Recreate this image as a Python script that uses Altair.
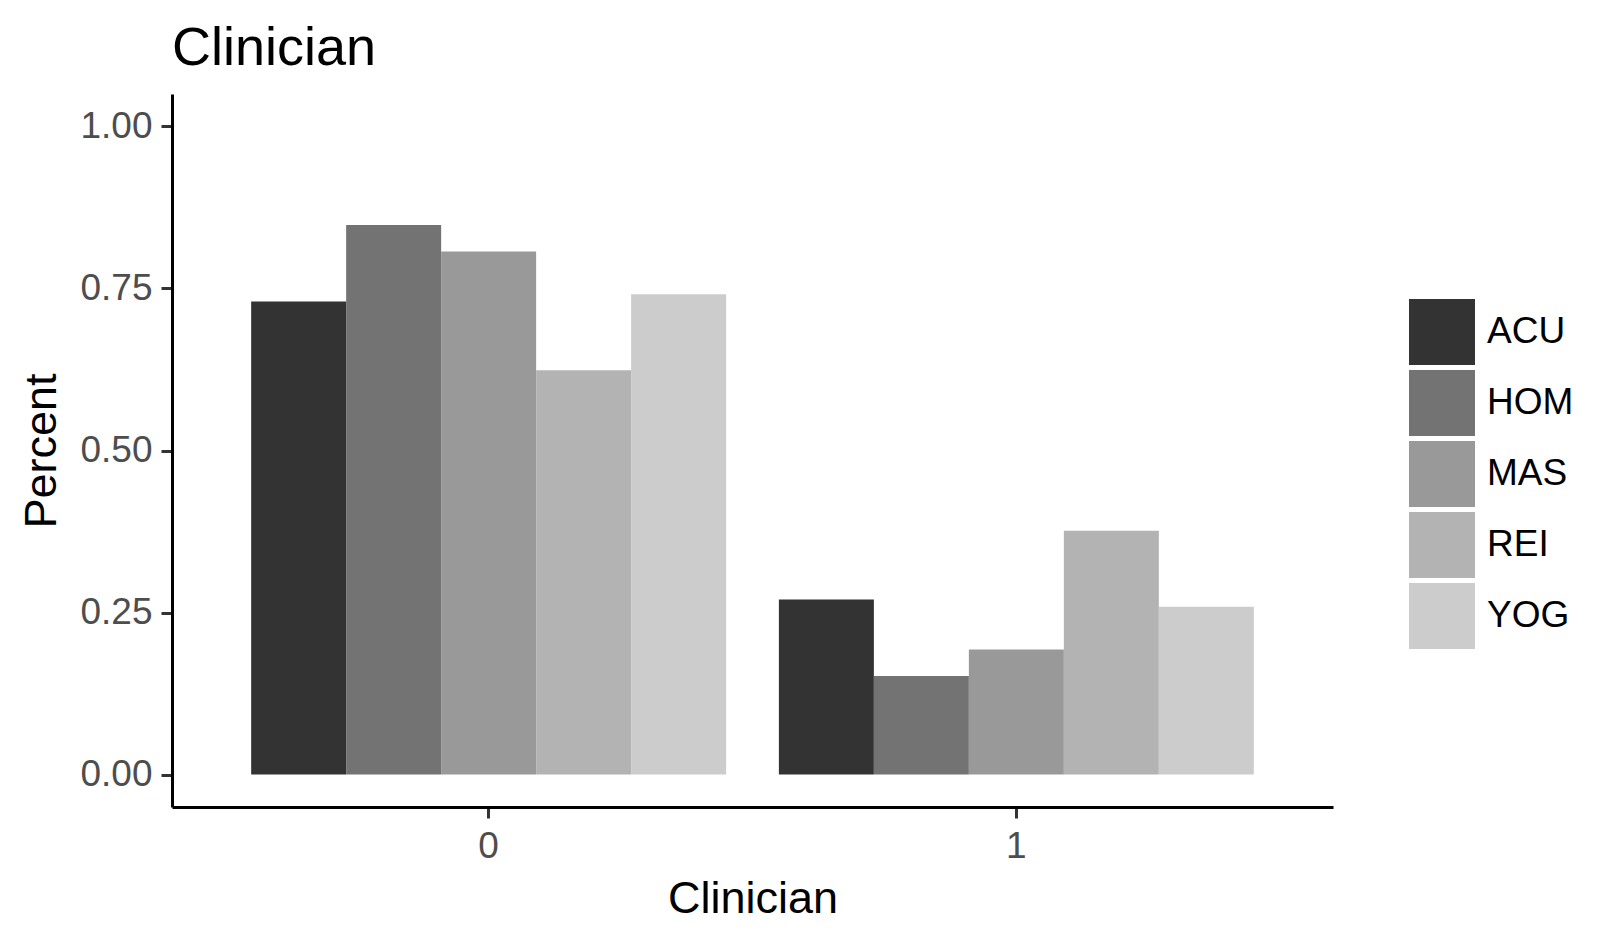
import altair as alt
import pandas as pd

clinician = ["0", "1"]
therapy = ["ACU", "HOM", "MAS", "REI", "YOG"]
pct_clinician_0 = [0.730, 0.848, 0.807, 0.624, 0.741]
pct_clinician_1 = [0.270, 0.152, 0.193, 0.376, 0.259]
grey_fill = ["#333333", "#737373", "#999999", "#B3B3B3", "#CCCCCC"]
y_ticks = [0.0, 0.25, 0.5, 0.75, 1.0]

rows = []
for c, vals in zip(clinician, [pct_clinician_0, pct_clinician_1]):
    for t, v in zip(therapy, vals):
        rows.append({"Clinician": c, "therapy": t, "Percent": v})
df = pd.DataFrame(rows)

FONT = "Liberation Sans"
PLOT_W, PLOT_H = 1161, 713

axis_common = dict(
    labelFont=FONT,
    labelFontSize=37,
    labelColor="#4D4D4D",
    titleFont=FONT,
    titleFontSize=45,
    titleFontWeight="normal",
    titleColor="black",
    tickSize=11,
    tickWidth=3,
    tickColor="#333333",
    domainColor="black",
    domainWidth=3,
    grid=False,
)

chart = (
    alt.Chart(
        df,
        title=alt.Title(
            "Clinician",
            anchor="start",
            frame="group",
            font=FONT,
            fontSize=54,
            fontWeight="normal",
            color="black",
            baseline="alphabetic",
            offset=-25,
        ),
    )
    .mark_bar()
    .encode(
        x=alt.X(
            "Clinician:N",
            sort=clinician,
            scale=alt.Scale(paddingInner=0.1, paddingOuter=0.15),
            axis=alt.Axis(
                title="Clinician",
                labelAngle=0,
                labelPadding=10,
                titleY=91,
                titleBaseline="middle",
                **axis_common,
            ),
        ),
        xOffset=alt.XOffset(
            "therapy:N", sort=therapy, scale=alt.Scale(paddingInner=0, paddingOuter=0)
        ),
        y=alt.Y(
            "Percent:Q",
            scale=alt.Scale(domain=[-0.05, 1.05], nice=False, zero=False),
            axis=alt.Axis(
                title="Percent",
                values=y_ticks,
                format=".2f",
                labelPadding=9,
                titleX=-131,
                titleY=PLOT_H / 2,
                titleBaseline="middle",
                **axis_common,
            ),
        ),
        y2=alt.datum(0),
        color=alt.Color(
            "therapy:N",
            sort=therapy,
            scale=alt.Scale(domain=therapy, range=grey_fill),
            legend=alt.Legend(
                title=None,
                orient="none",
                legendX=1237,
                legendY=205,
                symbolType="square",
                symbolSize=4356,
                symbolStrokeWidth=0,
                symbolOpacity=1,
                labelFont=FONT,
                labelFontSize=37,
                labelColor="black",
                labelOffset=12,
                rowPadding=5,
            ),
        ),
    )
    .properties(
        width=PLOT_W,
        height=PLOT_H,
        autosize=alt.AutoSizeParams(type="none"),
        padding={"left": 164, "top": 86, "right": 250, "bottom": 115},
    )
    .configure_view(stroke=None)
)

chart.save("out.html", embed_options={"renderer": "svg", "actions": False})
